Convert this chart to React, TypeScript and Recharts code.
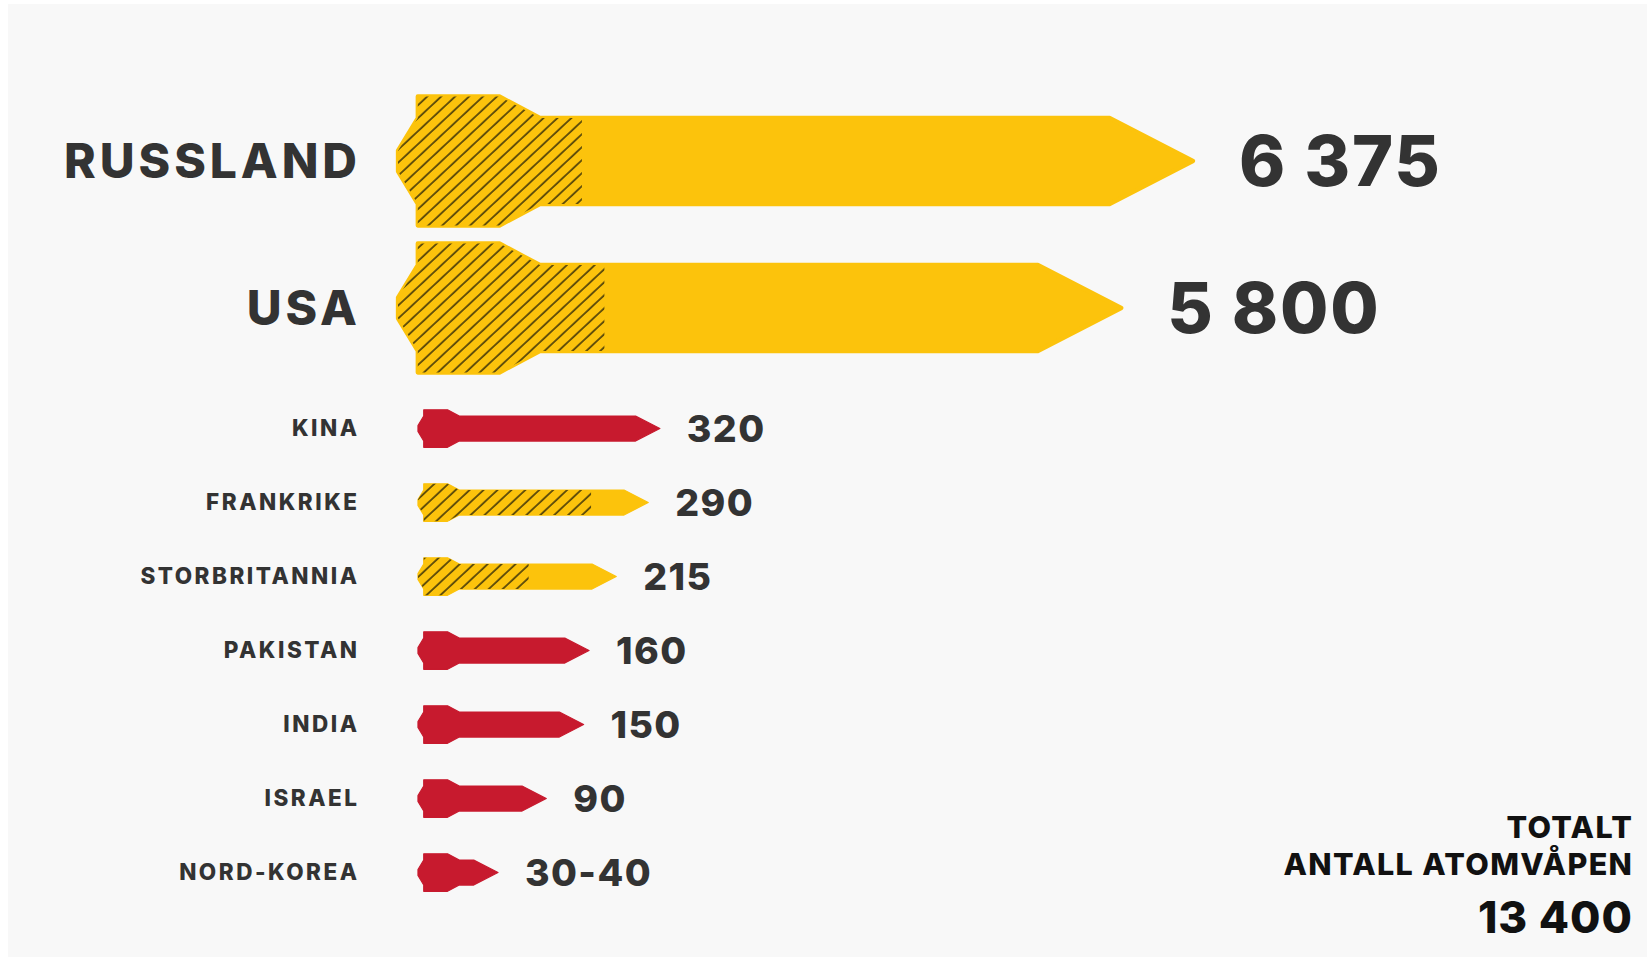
import { Bar, BarChart, LabelList, XAxis, YAxis } from 'recharts';

const YELLOW = '#fcc30c';
const RED = '#c71a2e';
const TEXT = '#333333';
const FONT = "Inter, 'Liberation Sans', sans-serif";
const WEIGHT = 800;

// the two big arsenals get their own, larger missiles
const bigCountries = ['RUSSLAND', 'USA'];
const bigTotals = [6375, 5800];
const bigDeployed = [1475, 1655];
const bigValueLabels = ['6 375', '5 800'];
const bigColors = [YELLOW, YELLOW];

const smallCountries = ['KINA', 'FRANKRIKE', 'STORBRITANNIA', 'PAKISTAN', 'INDIA', 'ISRAEL', 'NORD-KOREA'];
const smallTotals = [320, 290, 215, 160, 150, 90, 35];
const smallDeployed = [0, 218, 120, 0, 0, 0, 0];
const smallValueLabels = ['320', '290', '215', '160', '150', '90', '30-40'];
const smallColors = [RED, YELLOW, YELLOW, RED, RED, RED, RED];

const totalLines = ['TOTALT', 'ANTALL ATOMVÅPEN'];
const totalValue = '13 400';

type Row = { name: string; total: number; deployed: number; label: string; color: string };

const makeRows = (names: string[], totals: number[], deployed: number[], labels: string[], colors: string[]): Row[] =>
  names.map((name, i) => ({ name, total: totals[i], deployed: deployed[i], label: labels[i], color: colors[i] }));

const bigRows = makeRows(bigCountries, bigTotals, bigDeployed, bigValueLabels, bigColors);
const smallRows = makeRows(smallCountries, smallTotals, smallDeployed, smallValueLabels, smallColors);

// baseline offset so the cap height sits centred on y
const capY = (y: number, size: number) => y + size * 0.3635;

function Missile(props: any) {
  const { x, y, width, height, index, prefix } = props;
  const row: Row = props.payload ?? props;
  if (!width || width <= 0) return null;
  const h = height;
  const cy = y + h / 2;
  const fin = 0.23 * h;
  const rear = 1.5 * h;
  const flatEnd = x + fin + 0.95 * h;
  const taperEnd = flatEnd + 0.47 * h;
  const tip = x + width;
  const tipStart = Math.max(taperEnd, tip - 0.97 * h);
  const d = [
    `M${x + fin},${cy - rear / 2}`,
    `L${flatEnd},${cy - rear / 2}`,
    `L${taperEnd},${cy - h / 2}`,
    `L${tipStart},${cy - h / 2}`,
    `L${tip},${cy}`,
    `L${tipStart},${cy + h / 2}`,
    `L${taperEnd},${cy + h / 2}`,
    `L${flatEnd},${cy + rear / 2}`,
    `L${x + fin},${cy + rear / 2}`,
    `L${x + fin},${cy + h / 2}`,
    `L${x},${cy + 0.12 * h}`,
    `L${x},${cy - 0.12 * h}`,
    `L${x + fin},${cy - h / 2}`,
    'Z',
  ].join(' ');
  const frac = row.total ? row.deployed / row.total : 0;
  const clipId = `${prefix}-clip-${index}`;
  const sw = Math.max(1.2, h * 0.05);
  return (
    <g>
      <path d={d} fill={row.color} stroke={row.color} strokeWidth={sw} strokeLinejoin="round" />
      {frac > 0 && (
        <>
          <clipPath id={clipId}>
            <rect x={x - 4} y={cy - rear / 2 - 4} width={frac * width + 4} height={rear + 8} />
          </clipPath>
          <path d={d} fill="url(#hatch)" stroke="none" clipPath={`url(#${clipId})`} />
        </>
      )}
    </g>
  );
}

function CountryTick(props: any) {
  const { x, y, payload, size, spacing } = props;
  return (
    <text
      x={x + spacing}
      y={capY(y, size)}
      textAnchor="end"
      fontFamily={FONT}
      fontWeight={WEIGHT}
      fontSize={size}
      letterSpacing={spacing}
      fill={TEXT}
    >
      {payload.value}
    </text>
  );
}

function ValueText(props: any) {
  const { x, y, width, height, value, size, gap, spacing } = props;
  return (
    <text
      x={x + width + gap}
      y={capY(y + height / 2, size)}
      fontFamily={FONT}
      fontWeight={WEIGHT}
      fontSize={size}
      letterSpacing={spacing}
      fill={TEXT}
    >
      {value}
    </text>
  );
}

const Hatch = () => (
  <defs>
    <pattern id="hatch" patternUnits="userSpaceOnUse" width={9.5} height={9.5} patternTransform="rotate(47)">
      <line x1={1} y1={0} x2={1} y2={9.5} stroke="#2b2508" strokeWidth={1.4} />
    </pattern>
  </defs>
);

export default function App() {
  return (
    <div style={{ position: 'absolute', left: 0, top: 0, width: 1652, height: 958, background: '#fff' }}>
      <svg width={1652} height={958} style={{ position: 'absolute', left: 0, top: 0 }}>
        <rect x={8} y={4} width={1639} height={953} fill="#f8f8f8" />
        {totalLines.map((t, i) => (
          <text
            key={t}
            x={1633.3}
            y={838 + i * 37}
            textAnchor="end"
            fontFamily={FONT}
            fontWeight={WEIGHT}
            fontSize={30.5}
            letterSpacing={1.35}
            fill="#111"
          >
            {t}
          </text>
        ))}
        <text
          x={1633}
          y={933}
          textAnchor="end"
          fontFamily={FONT}
          fontWeight={WEIGHT}
          fontSize={44}
          letterSpacing={1}
          fill="#111"
        >
          {totalValue}
        </text>
      </svg>

      <div style={{ position: 'absolute', left: 0, top: 0 }}>
        <BarChart
          width={1652}
          height={381}
          data={bigRows}
          layout="vertical"
          margin={{ top: 87, right: 7, bottom: 0, left: 0 }}
        >
          <Hatch />
          <XAxis type="number" hide domain={[0, 10000]} />
          <YAxis
            type="category"
            dataKey="name"
            width={398}
            tickSize={0}
            tickMargin={41}
            axisLine={false}
            tickLine={false}
            interval={0}
            tick={<CountryTick size={48} spacing={3.9} />}
          />
          <Bar
            dataKey="total"
            barSize={86}
            isAnimationActive={false}
            shape={(p: any) => <Missile {...p} prefix="big" />}
          >
            <LabelList
              dataKey="label"
              content={(p: any) => <ValueText {...p} size={70} gap={46} spacing={1.8} />}
            />
          </Bar>
        </BarChart>
      </div>

      <div style={{ position: 'absolute', left: 0, top: 381 }}>
        <BarChart
          width={1652}
          height={528}
          data={smallRows}
          layout="vertical"
          margin={{ top: 10, right: 379, bottom: 0, left: 0 }}
        >
          <Hatch />
          <XAxis type="number" hide scale="sqrt" domain={[0, 4000]} />
          <YAxis
            type="category"
            dataKey="name"
            width={418}
            tickSize={0}
            tickMargin={61}
            axisLine={false}
            tickLine={false}
            interval={0}
            tick={<CountryTick size={22.5} spacing={2.5} />}
          />
          <Bar
            dataKey="total"
            barSize={25}
            isAnimationActive={false}
            shape={(p: any) => <Missile {...p} prefix="small" />}
          >
            <LabelList
              dataKey="label"
              content={(p: any) => <ValueText {...p} size={37.5} gap={27} spacing={1.4} />}
            />
          </Bar>
        </BarChart>
      </div>
    </div>
  );
}
